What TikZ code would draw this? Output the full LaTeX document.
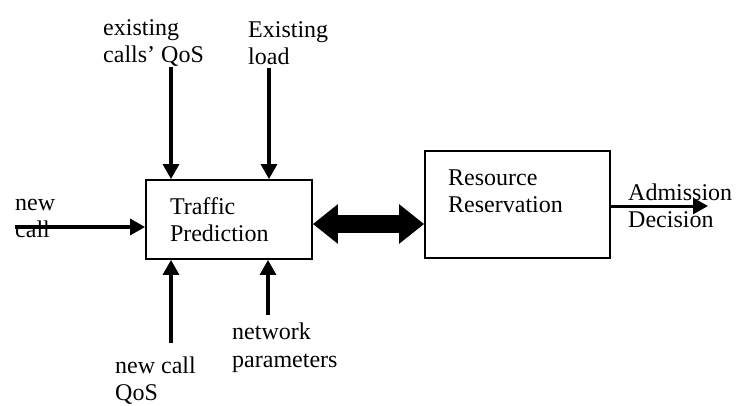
\documentclass[tikz,border=0pt]{standalone}
\usepackage{fontspec}
\setmainfont{Liberation Serif}
\usetikzlibrary{arrows.meta}
\begin{document}
\begin{tikzpicture}[x=1pt,y=-1pt,
  every node/.style={font=\fontsize{24}{27.5}\selectfont},
  lbl/.style={align=left, inner sep=0pt, anchor=west},
  blk/.style={draw, line width=1.8pt},
  feed/.style={line width=3.2pt, -{Triangle[length=15pt,width=16pt]}},
  dbl/.style={line width=18pt, {Triangle[length=25pt,width=38pt]}-{Triangle[length=25pt,width=38pt]}}]
\useasboundingbox (0,0) rectangle (739,405);

% processing blocks
\node[blk, minimum height=79pt, inner xsep=24pt, text width=118pt, align=left] (tp) at (229,219.5) {Traffic\\Prediction};
\node[blk, minimum width=185pt, minimum height=107pt] (rr) at (517.5,204.5) {};
\node[lbl] (rrtext) at (448,191.5) {Resource\\Reservation};

% input and output labels
\node[lbl] (ecq) at (103,43) {existing\\calls' QoS};
\node[lbl] (el) at (248,43) {Existing\\load};
\node[lbl] (nc) at (15,218.5) {new\\call};
\node[lbl] (ncq) at (115,380.5) {new call\\QoS};
\node[lbl] (np) at (232,347.5) {network\\parameters};
\node[lbl] (ad) at (628,206) {Admission\\Decision};

% free ends of the connectors
\coordinate (ecS) at (171,67);
\coordinate (elS) at (269,68);
\coordinate (ncS) at (15,227);
\coordinate (ncqS) at (171,343);
\coordinate (npS) at (268,315);
\coordinate (adE) at (708,206);
\coordinate (link) at (0,224);

% inputs to the prediction block
\draw[feed] (ecS) -- (ecS |- tp.north);
\draw[feed] (elS) -- (elS |- tp.north);
\draw[feed] (ncS) -- (ncS -| tp.west);
\draw[feed] (ncqS) -- (ncqS |- tp.south);
\draw[feed] (npS) -- (npS |- tp.south);

% exchange between the blocks and the decision output
\draw[dbl] (tp.east |- link) -- (rr.west |- link);
\draw[feed, line width=3pt] (rr.east |- adE) -- (adE);
\end{tikzpicture}
\end{document}
